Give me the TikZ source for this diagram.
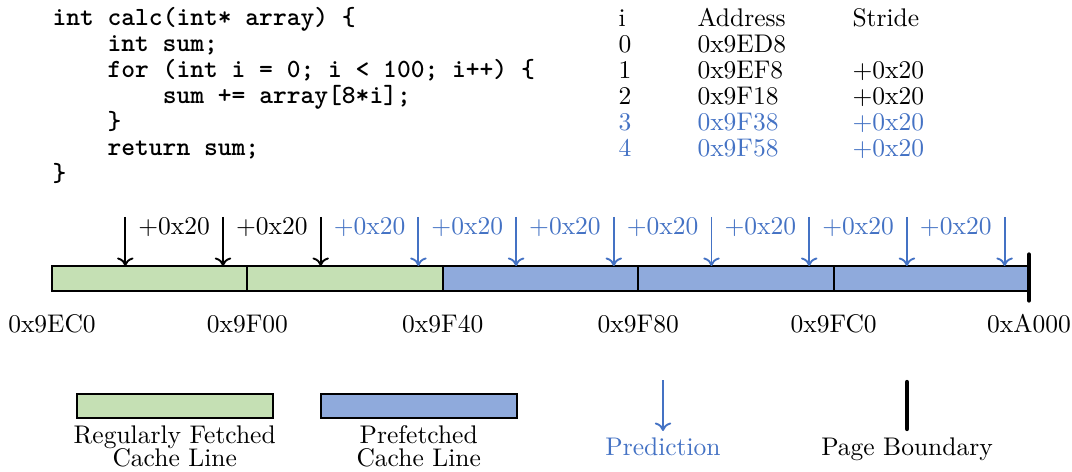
\documentclass[tikz,border=0pt]{standalone}
\usetikzlibrary{arrows.meta}
\definecolor{predblue}{HTML}{4472C4}
\definecolor{fetchgreen}{HTML}{C5E0B4}
\definecolor{prefblue}{HTML}{8FAADC}
\begin{document}
\begin{tikzpicture}[x=0.4pt,y=-0.4pt,
  txt/.style={font=\fontsize{10.2}{12}\selectfont, inner sep=0pt},
  codeline/.style={font=\fontsize{10.5}{12}\selectfont\ttfamily\bfseries, anchor=base west, inner sep=0pt},
  cell/.style={txt, anchor=base west},
  ptr/.style={-{To[length=3.4pt,width=6.6pt]}, line width=0.75pt},
  cacheline/.style={draw=black, line width=0.85pt, minimum width=78.16pt, minimum height=10pt,
                    inner sep=0pt, outer sep=0pt, anchor=north west},
  legbox/.style={draw=black, line width=0.85pt, minimum width=78.4pt, minimum height=9.5pt,
                 inner sep=0pt, outer sep=0pt, anchor=north west},
  boundary/.style={line width=1.7pt, line cap=round}]
\useasboundingbox (0,0) rectangle (1072,472);

% source code
\node[codeline] (code1) at (52,26)    {int calc(int* array) \{};
\node[codeline] (code2) at (107.1,52) {int sum;};
\node[codeline] (code3) at (107.1,78) {for (int i = 0; i < 100; i++) \{};
\node[codeline] (code4) at (162.3,104) {sum += array[8*i];};
\node[codeline] (code5) at (107.1,130) {\}};
\node[codeline] (code6) at (107.1,156) {return sum;};
\node[codeline] (code7) at (52,182)   {\}};

% access table
\node[cell] (hi) at (618,27) {i};
\node[cell] (ha) at (697,27) {Address};
\node[cell] (hs) at (852,27) {Stride};
\node[cell] (i0) at (618,53) {0};
\node[cell] (a0) at (697,53) {0x9ED8};
\node[cell] (i1) at (618,79) {1};
\node[cell] (a1) at (697,79) {0x9EF8};
\node[cell] (s1) at (852,79) {+0x20};
\node[cell] (i2) at (618,105) {2};
\node[cell] (a2) at (697,105) {0x9F18};
\node[cell] (s2) at (852,105) {+0x20};
\node[cell, text=predblue] (i3) at (618,131) {3};
\node[cell, text=predblue] (a3) at (697,131) {0x9F38};
\node[cell, text=predblue] (s3) at (852,131) {+0x20};
\node[cell, text=predblue] (i4) at (618,157) {4};
\node[cell, text=predblue] (a4) at (697,157) {0x9F58};
\node[cell, text=predblue] (s4) at (852,157) {+0x20};

% cache lines
\node[cacheline, fill=fetchgreen] (c1) at (52,266) {};
\node[cacheline, fill=fetchgreen] (c2) at (247.4,266) {};
\node[cacheline, fill=prefblue]   (c3) at (442.8,266) {};
\node[cacheline, fill=prefblue]   (c4) at (638.2,266) {};
\node[cacheline, fill=prefblue]   (c5) at (833.6,266) {};

% page boundary
\coordinate (pbtop) at (1029,254.5);
\coordinate (pbbot) at (1029,300.5);
\draw[boundary] (pbtop) -- (pbbot);

% address labels
\foreach \lab [count=\k from 0] in {0x9EC0,0x9F00,0x9F40,0x9F80,0x9FC0,0xA000}
  \node[txt, anchor=base] (addr\k) at (52+195.4*\k,332) {\lab};

% accesses and strides
\foreach \k in {0,...,9} {
  \pgfmathsetmacro{\xa}{125.3+97.7*\k}
  \ifnum\k<3 \def\col{black}\else\def\col{predblue}\fi
  \coordinate (t\k) at (\xa,217);
  \draw[ptr, draw=\col] (t\k) -- (t\k |- c1.north);
}
\foreach \k in {0,...,8} {
  \pgfmathsetmacro{\xm}{174.15+97.7*\k}
  \ifnum\k<2 \def\col{black}\else\def\col{predblue}\fi
  \node[txt, anchor=base, text=\col] (st\k) at (\xm,235) {+0x20};
}

% legend
\node[legbox, fill=fetchgreen] (lg1) at (76.7,394) {};
\node[txt, anchor=base] (lg1a) at (lg1.south |- 0,443) {Regularly Fetched};
\node[txt, anchor=base] (lg1b) at (lg1.south |- 0,466) {Cache Line};
\node[legbox, fill=prefblue] (lg2) at (320.7,394) {};
\node[txt, anchor=base] (lg2a) at (lg2.south |- 0,443) {Prefetched};
\node[txt, anchor=base] (lg2b) at (lg2.south |- 0,466) {Cache Line};

\coordinate (pr1) at (663,380);
\node[txt, anchor=base, text=predblue] (lg3) at (663,455) {Prediction};
\draw[ptr, draw=predblue] (pr1) -- (663,431);

\coordinate (pb1) at (907,382);
\coordinate (pb2) at (907,429);
\draw[boundary] (pb1) -- (pb2);
\node[txt, anchor=base] (lg4) at (907,455) {Page Boundary};
\end{tikzpicture}
\end{document}
